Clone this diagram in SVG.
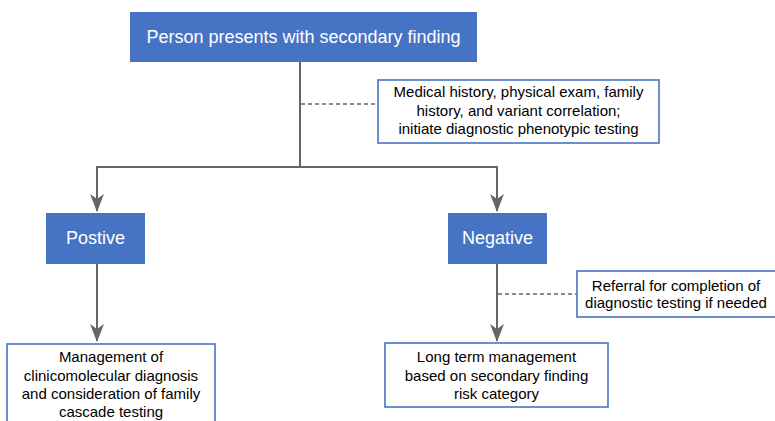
<svg xmlns="http://www.w3.org/2000/svg" width="775" height="421" viewBox="0 0 775 421">
<defs>
<style>
.fill{fill:#4773c4;}
.out{fill:#fff;stroke:#4773c4;stroke-width:1.6;}
.wt{fill:#fff;font-family:"Liberation Sans",Arial,sans-serif;font-size:18px;text-anchor:middle;}
.bt{fill:#000;font-family:"Liberation Sans",Arial,sans-serif;font-size:15px;text-anchor:middle;}
.ln{fill:none;stroke:#666;stroke-width:2;}
.dl{fill:none;stroke:#666;stroke-width:1.5;stroke-dasharray:4 3;}
</style>
<marker id="ah" markerWidth="18" markerHeight="14" refX="17" refY="7" orient="auto" markerUnits="userSpaceOnUse" viewBox="0 0 18 14">
<path d="M0,0 L5,7 L0,14 L18,7 Z" fill="#666"/>
</marker>
</defs>
<rect width="775" height="421" fill="#fff"/>
<g id="connectors">
<path class="ln" d="M300,62 V167 M96,167 H498"/>
<path class="ln" d="M97,167 V211" marker-end="url(#ah)"/>
<path class="ln" d="M497,167 V211" marker-end="url(#ah)"/>
<path class="ln" d="M97,264 V341" marker-end="url(#ah)"/>
<path class="ln" d="M497,264 V341" marker-end="url(#ah)"/>
<path class="dl" d="M301,104 H378"/>
<path class="dl" d="M498,294 H577"/>
</g>
<g id="top">
<rect class="fill" x="130" y="12" width="347" height="50"/>
<text class="wt" x="303.5" y="43">Person presents with secondary finding</text>
</g>
<g id="note1">
<rect class="out" x="378" y="80" width="281" height="63"/>
<text class="bt" x="518.5" y="97">Medical history, physical exam, family</text>
<text class="bt" x="518.5" y="115.5">history, and variant correlation;</text>
<text class="bt" x="518.5" y="134">initiate diagnostic phenotypic testing</text>
</g>
<g id="positive">
<rect class="fill" x="46" y="213" width="99" height="51"/>
<text class="wt" x="95.5" y="244">Postive</text>
</g>
<g id="negative">
<rect class="fill" x="448" y="213" width="99" height="51"/>
<text class="wt" x="497.5" y="244">Negative</text>
</g>
<g id="note2">
<rect class="out" x="577" y="271" width="199" height="46"/>
<text class="bt" x="676" y="290.5">Referral for completion of</text>
<text class="bt" x="676" y="307.5">diagnostic testing if needed</text>
</g>
<g id="management">
<rect class="out" x="7" y="344" width="208" height="85"/>
<text class="bt" x="111" y="361.5">Management of</text>
<text class="bt" x="111" y="380.5">clinicomolecular diagnosis</text>
<text class="bt" x="111" y="399">and consideration of family</text>
<text class="bt" x="111" y="416.5">cascade testing</text>
</g>
<g id="longterm">
<rect class="out" x="385" y="343" width="223" height="64"/>
<text class="bt" x="496.5" y="362">Long term management</text>
<text class="bt" x="496.5" y="380.5">based on secondary finding</text>
<text class="bt" x="496.5" y="399">risk category</text>
</g>
</svg>
